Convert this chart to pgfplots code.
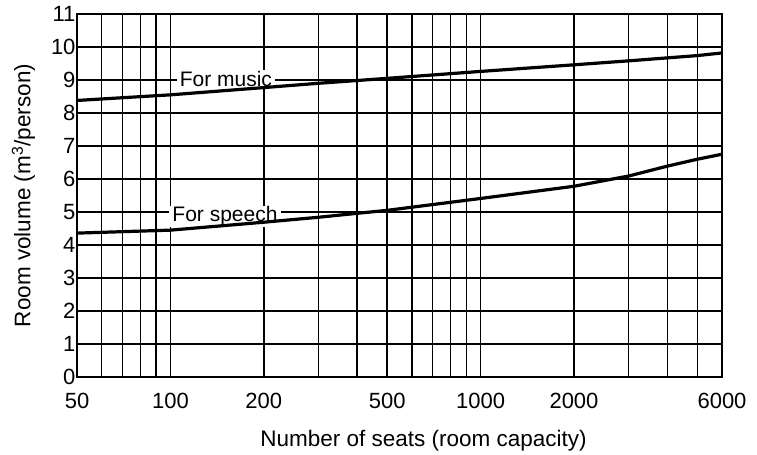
\documentclass[border=0pt]{standalone}
\usepackage{fontspec}
\setmainfont{Liberation Sans}
\usepackage{pgfplots}
\pgfplotsset{compat=1.18}

\begin{document}
\begin{tikzpicture}

\begin{axis}[%
name=ax,
width=645pt,
height=363pt,
scale only axis,
xmode=log,
xmin=50,
xmax=6000,
ymin=0,
ymax=11,
xtick={50,100,200,500,1000,2000,6000},
xticklabels={50,100,200,500,1000,2000,6000},
minor xtick={60,70,80,90,300,400,600,700,800,900,3000,4000,5000},
ytick={0,1,...,11},
/pgf/number format/assume math mode=true,
tick style={draw=none},
grid=both,
major grid style={black, line width=1.5pt},
minor grid style={black, line width=1.5pt},
axis line style={black, line width=2.6pt},
ticklabel style={font=\fontsize{22}{25}\selectfont},
xticklabel style={yshift=-13pt},
yticklabel style={xshift=2pt},
xlabel={Number of seats (room capacity)},
ylabel={Room volume (m\textsuperscript{3}/person)},
label style={font=\fontsize{22.5}{26}\selectfont},
xlabel style={yshift=-14pt, xshift=24pt},
ylabel style={yshift=9pt},
]
\draw[black, line width=2.6pt] (axis cs:90,0) -- (axis cs:90,11);
\node[fill=white, inner xsep=3pt, inner ysep=1pt, anchor=base, font=\fontsize{21}{24}\selectfont] at (axis cs:151,8.80) {For music};
\node[fill=white, inner xsep=3pt, inner ysep=1pt, anchor=base, font=\fontsize{21}{24}\selectfont] at (axis cs:150,4.70) {For speech};

\addplot[black, line width=3.2pt] coordinates {
(50,8.38) (100,8.55) (200,8.77) (300,8.90) (500,9.05) (1000,9.26)
(2000,9.46) (3000,9.58) (5000,9.74) (6000,9.82)
};

\addplot[black, line width=3.2pt] coordinates {
(50,4.36) (100,4.45) (200,4.69) (300,4.84) (400,4.96) (500,5.05)
(1000,5.41) (2000,5.78) (3000,6.09) (4000,6.39) (5000,6.60) (6000,6.75)
};

\end{axis}
\path (ax.south west) ++(-77pt,-75pt) rectangle ++(757pt,452pt);
\end{tikzpicture}
\end{document}
